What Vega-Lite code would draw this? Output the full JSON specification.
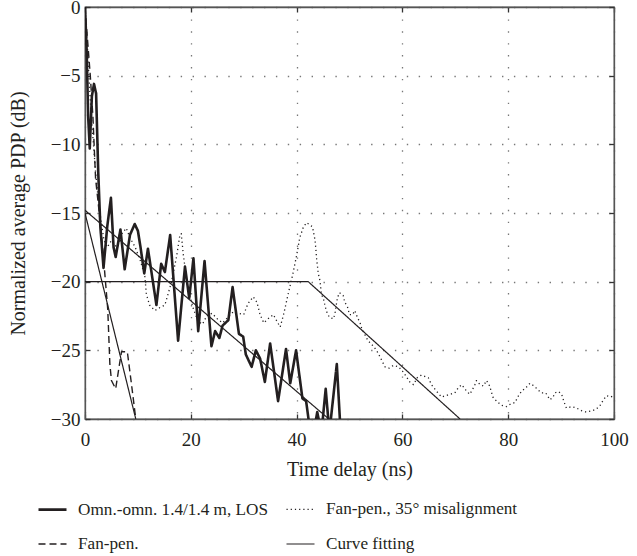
{
  "$schema": "https://vega.github.io/schema/vega-lite/v6.json",
  "autosize": {"type": "none"},
  "padding": {"left": 85, "top": 7, "right": 23, "bottom": 137},
  "width": 529,
  "height": 412,
  "config": {
    "font": "Liberation Serif, Times New Roman, serif",
    "view": {"stroke": "#555", "strokeWidth": 1.3},
    "axis": {
      "domainColor": "#555", "domainWidth": 1.3,
      "tickColor": "#333", "tickWidth": 1.3, "tickSize": -5,
      "labelFont": "Liberation Serif, Times New Roman, serif", "labelFontSize": 19, "labelColor": "#231f20",
      "titleFont": "Liberation Serif, Times New Roman, serif", "titleFontSize": 20, "titleFontWeight": "normal", "titleColor": "#231f20",
      "gridColor": "#777", "gridDash": [1.4, 10.5], "gridWidth": 1.3, "gridOpacity": 1
    },
    "legend": {
      "labelFont": "Liberation Serif, Times New Roman, serif", "labelFontSize": 17.2, "labelColor": "#231f20", "labelLimit": 0
    }
  },
  "datasets": {
    "lines": [
      {"s": "A", "seg": "a", "t": 0, "v": 0},
      {"s": "A", "seg": "a", "t": 0.3, "v": -3},
      {"s": "A", "seg": "a", "t": 0.6, "v": -8},
      {"s": "A", "seg": "a", "t": 0.9, "v": -10.3},
      {"s": "A", "seg": "a", "t": 1.3, "v": -6.5},
      {"s": "A", "seg": "a", "t": 1.7, "v": -5.6},
      {"s": "A", "seg": "a", "t": 2.1, "v": -6.3},
      {"s": "A", "seg": "a", "t": 2.5, "v": -12},
      {"s": "A", "seg": "a", "t": 2.9, "v": -16},
      {"s": "A", "seg": "a", "t": 3.5, "v": -19.0},
      {"s": "A", "seg": "a", "t": 4.2, "v": -16},
      {"s": "A", "seg": "a", "t": 4.9, "v": -13.9},
      {"s": "A", "seg": "a", "t": 5.4, "v": -17.5},
      {"s": "A", "seg": "a", "t": 5.8, "v": -18.2},
      {"s": "A", "seg": "a", "t": 6.7, "v": -16.2},
      {"s": "A", "seg": "a", "t": 7.5, "v": -19.1},
      {"s": "A", "seg": "a", "t": 8.5, "v": -16.6},
      {"s": "A", "seg": "a", "t": 9.4, "v": -15.8},
      {"s": "A", "seg": "a", "t": 10.0, "v": -16.3},
      {"s": "A", "seg": "a", "t": 10.5, "v": -17.5},
      {"s": "A", "seg": "a", "t": 11.2, "v": -19.4},
      {"s": "A", "seg": "a", "t": 11.9, "v": -17.6},
      {"s": "A", "seg": "a", "t": 13.5, "v": -21.7},
      {"s": "A", "seg": "a", "t": 14.4, "v": -18.7},
      {"s": "A", "seg": "a", "t": 15.1, "v": -19.3},
      {"s": "A", "seg": "a", "t": 16.1, "v": -16.6},
      {"s": "A", "seg": "a", "t": 17.6, "v": -24.3},
      {"s": "A", "seg": "a", "t": 18.9, "v": -18.9},
      {"s": "A", "seg": "a", "t": 19.7, "v": -21.2},
      {"s": "A", "seg": "a", "t": 20.5, "v": -18.3},
      {"s": "A", "seg": "a", "t": 21.4, "v": -23.6},
      {"s": "A", "seg": "a", "t": 22.6, "v": -18.5},
      {"s": "A", "seg": "a", "t": 23.9, "v": -24.7},
      {"s": "A", "seg": "a", "t": 24.6, "v": -23.6},
      {"s": "A", "seg": "a", "t": 25.4, "v": -24.1},
      {"s": "A", "seg": "a", "t": 26.0, "v": -23.2},
      {"s": "A", "seg": "a", "t": 27.1, "v": -22.8},
      {"s": "A", "seg": "a", "t": 27.9, "v": -20.4},
      {"s": "A", "seg": "a", "t": 29.1, "v": -23.8},
      {"s": "A", "seg": "a", "t": 29.9, "v": -24.0},
      {"s": "A", "seg": "a", "t": 30.4, "v": -25.3},
      {"s": "A", "seg": "a", "t": 31.5, "v": -26.2},
      {"s": "A", "seg": "a", "t": 32.3, "v": -25.0},
      {"s": "A", "seg": "a", "t": 33.1, "v": -25.6},
      {"s": "A", "seg": "a", "t": 34.0, "v": -27.3},
      {"s": "A", "seg": "a", "t": 35.0, "v": -24.5},
      {"s": "A", "seg": "a", "t": 36.5, "v": -28.7},
      {"s": "A", "seg": "a", "t": 38.0, "v": -24.9},
      {"s": "A", "seg": "a", "t": 38.8, "v": -27.4},
      {"s": "A", "seg": "a", "t": 39.9, "v": -25.0},
      {"s": "A", "seg": "a", "t": 41.1, "v": -28.5},
      {"s": "A", "seg": "a", "t": 41.8, "v": -28.7},
      {"s": "A", "seg": "a", "t": 42.6, "v": -31},
      {"s": "A", "seg": "a", "t": 43.4, "v": -30.6},
      {"s": "A", "seg": "a", "t": 43.9, "v": -29.5},
      {"s": "A", "seg": "a", "t": 44.7, "v": -31},
      {"s": "A", "seg": "a", "t": 45.5, "v": -27.8},
      {"s": "A", "seg": "a", "t": 46.2, "v": -31},
      {"s": "A", "seg": "a", "t": 47.6, "v": -26.0},
      {"s": "A", "seg": "a", "t": 48.4, "v": -31.5},

      {"s": "C", "seg": "c", "t": 0, "v": 0},
      {"s": "C", "seg": "c", "t": 0.5, "v": -2.5},
      {"s": "C", "seg": "c", "t": 1.0, "v": -5},
      {"s": "C", "seg": "c", "t": 1.5, "v": -8},
      {"s": "C", "seg": "c", "t": 2.0, "v": -12.5},
      {"s": "C", "seg": "c", "t": 2.5, "v": -14.3},
      {"s": "C", "seg": "c", "t": 3.1, "v": -16.5},
      {"s": "C", "seg": "c", "t": 3.7, "v": -19.2},
      {"s": "C", "seg": "c", "t": 4.3, "v": -22},
      {"s": "C", "seg": "c", "t": 4.7, "v": -26},
      {"s": "C", "seg": "c", "t": 5.0, "v": -27.2},
      {"s": "C", "seg": "c", "t": 5.8, "v": -27.8},
      {"s": "C", "seg": "c", "t": 6.4, "v": -26.3},
      {"s": "C", "seg": "c", "t": 6.9, "v": -25.1},
      {"s": "C", "seg": "c", "t": 8.0, "v": -25.1},
      {"s": "C", "seg": "c", "t": 8.8, "v": -27.5},
      {"s": "C", "seg": "c", "t": 9.6, "v": -30},
      {"s": "C", "seg": "c", "t": 10.2, "v": -32},

      {"s": "D", "seg": "d1", "t": 0, "v": -15},
      {"s": "D", "seg": "d1", "t": 9.6, "v": -30},
      {"s": "D", "seg": "d2", "t": 0, "v": -14.8},
      {"s": "D", "seg": "d2", "t": 46.1, "v": -30},
      {"s": "D", "seg": "d3", "t": 0, "v": -20},
      {"s": "D", "seg": "d3", "t": 42.2, "v": -20},
      {"s": "D", "seg": "d3", "t": 70.9, "v": -30},

      {"s": "B", "seg": "b", "t": 0, "v": 0},
      {"s": "B", "seg": "b", "t": 0.4, "v": -2.5},
      {"s": "B", "seg": "b", "t": 0.8, "v": -5.5},
      {"s": "B", "seg": "b", "t": 1.2, "v": -8},
      {"s": "B", "seg": "b", "t": 1.6, "v": -10},
      {"s": "B", "seg": "b", "t": 2.0, "v": -12},
      {"s": "B", "seg": "b", "t": 2.5, "v": -14},
      {"s": "B", "seg": "b", "t": 3.0, "v": -15.5},
      {"s": "B", "seg": "b", "t": 3.6, "v": -17},
      {"s": "B", "seg": "b", "t": 4.2, "v": -17.5},
      {"s": "B", "seg": "b", "t": 5.0, "v": -17},
      {"s": "B", "seg": "b", "t": 6.0, "v": -17.5},
      {"s": "B", "seg": "b", "t": 7.0, "v": -16.5},
      {"s": "B", "seg": "b", "t": 7.8, "v": -16.1},
      {"s": "B", "seg": "b", "t": 8.5, "v": -16.8},
      {"s": "B", "seg": "b", "t": 9.5, "v": -17.5},
      {"s": "B", "seg": "b", "t": 10.5, "v": -18.5},
      {"s": "B", "seg": "b", "t": 11.3, "v": -19.6},
      {"s": "B", "seg": "b", "t": 11.6, "v": -20.9},
      {"s": "B", "seg": "b", "t": 12.2, "v": -21.7},
      {"s": "B", "seg": "b", "t": 13.2, "v": -22.1},
      {"s": "B", "seg": "b", "t": 14.1, "v": -21.9},
      {"s": "B", "seg": "b", "t": 15.1, "v": -21.7},
      {"s": "B", "seg": "b", "t": 16.3, "v": -20.1},
      {"s": "B", "seg": "b", "t": 17.3, "v": -18.2},
      {"s": "B", "seg": "b", "t": 17.9, "v": -16.7},
      {"s": "B", "seg": "b", "t": 18.2, "v": -16.5},
      {"s": "B", "seg": "b", "t": 18.6, "v": -18.1},
      {"s": "B", "seg": "b", "t": 19.5, "v": -20.6},
      {"s": "B", "seg": "b", "t": 20.5, "v": -22},
      {"s": "B", "seg": "b", "t": 21.4, "v": -22.9},
      {"s": "B", "seg": "b", "t": 22.2, "v": -23.1},
      {"s": "B", "seg": "b", "t": 23.0, "v": -22.5},
      {"s": "B", "seg": "b", "t": 24.0, "v": -22.3},
      {"s": "B", "seg": "b", "t": 25.0, "v": -22.7},
      {"s": "B", "seg": "b", "t": 26.0, "v": -23.0},
      {"s": "B", "seg": "b", "t": 27.0, "v": -22.6},
      {"s": "B", "seg": "b", "t": 28.0, "v": -22.2},
      {"s": "B", "seg": "b", "t": 29.0, "v": -22.3},
      {"s": "B", "seg": "b", "t": 30.0, "v": -22.4},
      {"s": "B", "seg": "b", "t": 30.8, "v": -21.6},
      {"s": "B", "seg": "b", "t": 31.8, "v": -21.1},
      {"s": "B", "seg": "b", "t": 32.5, "v": -21.5},
      {"s": "B", "seg": "b", "t": 33.1, "v": -22.4},
      {"s": "B", "seg": "b", "t": 33.8, "v": -23.0},
      {"s": "B", "seg": "b", "t": 34.6, "v": -22.7},
      {"s": "B", "seg": "b", "t": 35.6, "v": -22.4},
      {"s": "B", "seg": "b", "t": 36.3, "v": -22.9},
      {"s": "B", "seg": "b", "t": 36.9, "v": -23.3},
      {"s": "B", "seg": "b", "t": 37.6, "v": -22.3},
      {"s": "B", "seg": "b", "t": 38.4, "v": -20.9},
      {"s": "B", "seg": "b", "t": 39.2, "v": -19.6},
      {"s": "B", "seg": "b", "t": 40.0, "v": -18.1},
      {"s": "B", "seg": "b", "t": 40.6, "v": -16.8},
      {"s": "B", "seg": "b", "t": 41.3, "v": -16.0},
      {"s": "B", "seg": "b", "t": 41.9, "v": -15.7},
      {"s": "B", "seg": "b", "t": 43.0, "v": -16.0},
      {"s": "B", "seg": "b", "t": 43.5, "v": -17.0},
      {"s": "B", "seg": "b", "t": 43.8, "v": -18.4},
      {"s": "B", "seg": "b", "t": 44.1, "v": -19.4},
      {"s": "B", "seg": "b", "t": 44.4, "v": -19.9},
      {"s": "B", "seg": "b", "t": 44.7, "v": -20.9},
      {"s": "B", "seg": "b", "t": 45.1, "v": -21.3},
      {"s": "B", "seg": "b", "t": 45.4, "v": -21.8},
      {"s": "B", "seg": "b", "t": 45.7, "v": -22.2},
      {"s": "B", "seg": "b", "t": 46.2, "v": -22.6},
      {"s": "B", "seg": "b", "t": 47.0, "v": -22.7},
      {"s": "B", "seg": "b", "t": 47.3, "v": -22.2},
      {"s": "B", "seg": "b", "t": 47.7, "v": -21.2},
      {"s": "B", "seg": "b", "t": 48.1, "v": -20.8},
      {"s": "B", "seg": "b", "t": 48.8, "v": -21.0},
      {"s": "B", "seg": "b", "t": 49.1, "v": -21.5},
      {"s": "B", "seg": "b", "t": 49.6, "v": -21.8},
      {"s": "B", "seg": "b", "t": 50.0, "v": -22.4},
      {"s": "B", "seg": "b", "t": 50.6, "v": -22.4},
      {"s": "B", "seg": "b", "t": 51.0, "v": -22.1},
      {"s": "B", "seg": "b", "t": 51.5, "v": -22.6},
      {"s": "B", "seg": "b", "t": 52.0, "v": -23.0},
      {"s": "B", "seg": "b", "t": 52.3, "v": -23.4},
      {"s": "B", "seg": "b", "t": 53.5, "v": -24.3},
      {"s": "B", "seg": "b", "t": 54.5, "v": -24.7},
      {"s": "B", "seg": "b", "t": 55.1, "v": -25.0},
      {"s": "B", "seg": "b", "t": 55.8, "v": -25.5},
      {"s": "B", "seg": "b", "t": 56.7, "v": -26.2},
      {"s": "B", "seg": "b", "t": 57.5, "v": -26.3},
      {"s": "B", "seg": "b", "t": 58.3, "v": -26.1},
      {"s": "B", "seg": "b", "t": 59.3, "v": -26.2},
      {"s": "B", "seg": "b", "t": 60.2, "v": -26.6},
      {"s": "B", "seg": "b", "t": 61.4, "v": -27.3},
      {"s": "B", "seg": "b", "t": 62.1, "v": -27.5},
      {"s": "B", "seg": "b", "t": 62.8, "v": -27.0},
      {"s": "B", "seg": "b", "t": 63.6, "v": -26.8},
      {"s": "B", "seg": "b", "t": 64.9, "v": -27.0},
      {"s": "B", "seg": "b", "t": 65.5, "v": -27.5},
      {"s": "B", "seg": "b", "t": 66.5, "v": -28.0},
      {"s": "B", "seg": "b", "t": 67.4, "v": -28.4},
      {"s": "B", "seg": "b", "t": 68.2, "v": -28.3},
      {"s": "B", "seg": "b", "t": 69.0, "v": -28.2},
      {"s": "B", "seg": "b", "t": 69.9, "v": -28.1},
      {"s": "B", "seg": "b", "t": 70.6, "v": -27.7},
      {"s": "B", "seg": "b", "t": 71.2, "v": -27.5},
      {"s": "B", "seg": "b", "t": 72.0, "v": -27.9},
      {"s": "B", "seg": "b", "t": 72.7, "v": -28.2},
      {"s": "B", "seg": "b", "t": 73.2, "v": -27.9},
      {"s": "B", "seg": "b", "t": 73.7, "v": -27.5},
      {"s": "B", "seg": "b", "t": 74.0, "v": -27.2},
      {"s": "B", "seg": "b", "t": 74.7, "v": -27.5},
      {"s": "B", "seg": "b", "t": 75.3, "v": -27.6},
      {"s": "B", "seg": "b", "t": 75.9, "v": -27.2},
      {"s": "B", "seg": "b", "t": 76.5, "v": -27.6},
      {"s": "B", "seg": "b", "t": 77.1, "v": -28.4},
      {"s": "B", "seg": "b", "t": 77.8, "v": -28.7},
      {"s": "B", "seg": "b", "t": 78.7, "v": -29.0},
      {"s": "B", "seg": "b", "t": 79.7, "v": -29.1},
      {"s": "B", "seg": "b", "t": 80.5, "v": -28.9},
      {"s": "B", "seg": "b", "t": 81.3, "v": -28.8},
      {"s": "B", "seg": "b", "t": 81.8, "v": -28.4},
      {"s": "B", "seg": "b", "t": 82.5, "v": -28.0},
      {"s": "B", "seg": "b", "t": 83.4, "v": -27.7},
      {"s": "B", "seg": "b", "t": 84.1, "v": -27.4},
      {"s": "B", "seg": "b", "t": 84.9, "v": -27.6},
      {"s": "B", "seg": "b", "t": 85.7, "v": -27.9},
      {"s": "B", "seg": "b", "t": 86.3, "v": -28.1},
      {"s": "B", "seg": "b", "t": 87.1, "v": -28.1},
      {"s": "B", "seg": "b", "t": 87.9, "v": -28.6},
      {"s": "B", "seg": "b", "t": 88.5, "v": -28.4},
      {"s": "B", "seg": "b", "t": 88.8, "v": -28.1},
      {"s": "B", "seg": "b", "t": 89.5, "v": -28.0},
      {"s": "B", "seg": "b", "t": 90.1, "v": -28.2},
      {"s": "B", "seg": "b", "t": 90.5, "v": -28.7},
      {"s": "B", "seg": "b", "t": 91.0, "v": -29.2},
      {"s": "B", "seg": "b", "t": 92.0, "v": -29.1},
      {"s": "B", "seg": "b", "t": 92.9, "v": -29.2},
      {"s": "B", "seg": "b", "t": 93.9, "v": -29.4},
      {"s": "B", "seg": "b", "t": 94.8, "v": -29.5},
      {"s": "B", "seg": "b", "t": 95.8, "v": -29.4},
      {"s": "B", "seg": "b", "t": 96.6, "v": -29.3},
      {"s": "B", "seg": "b", "t": 97.4, "v": -29.0},
      {"s": "B", "seg": "b", "t": 98.0, "v": -28.6},
      {"s": "B", "seg": "b", "t": 98.6, "v": -28.3},
      {"s": "B", "seg": "b", "t": 99.4, "v": -28.4},
      {"s": "B", "seg": "b", "t": 100.0, "v": -28.3}
    ]
  },
  "data": {"name": "lines"},
  "resolve": {"axis": {"x": "independent", "y": "independent"}},
  "layer": [
    {
      "mark": {"type": "line", "clip": true, "color": "#231f20", "strokeJoin": "round"},
      "encoding": {
        "x": {
          "field": "t", "type": "quantitative",
          "scale": {"domain": [0, 100], "nice": false},
          "axis": {
            "orient": "bottom", "title": "Time delay (ns)", "values": [0, 20, 40, 60, 80, 100],
            "grid": true, "labelFlush": false, "labelPadding": 16, "titlePadding": 10
          }
        },
        "y": {
          "field": "v", "type": "quantitative",
          "scale": {"domain": [-30, 0], "nice": false, "zero": false},
          "axis": {
            "orient": "left", "title": "Normalized average PDP (dB)", "values": [-30, -25, -20, -15, -10, -5, 0],
            "grid": true, "labelFlush": false, "labelPadding": 10, "titlePadding": 22
          }
        },
        "detail": {"field": "seg", "type": "nominal"},
        "strokeDash": {
          "field": "s", "type": "nominal",
          "scale": {"domain": ["A", "B", "C", "D"], "range": [[1, 0], [1.2, 3], [7, 4], [1, 0]]},
          "legend": {
            "orient": "none", "legendX": -48, "legendY": 487, "columns": 2, "direction": "horizontal", "title": null,
            "symbolType": "stroke", "symbolSize": 784, "symbolStrokeColor": "#231f20",
            "labelOffset": 10, "columnPadding": 14, "rowPadding": 11, "gridAlign": "each", "labelLimit": 0,
            "labelExpr": "datum.label == 'A' ? 'Omn.-omn. 1.4/1.4 m, LOS' : datum.label == 'B' ? 'Fan-pen., 35° misalignment' : datum.label == 'C' ? 'Fan-pen.' : 'Curve fitting'"
          }
        },
        "strokeWidth": {
          "field": "s", "type": "nominal",
          "scale": {"type": "ordinal", "domain": ["A", "B", "C", "D"], "range": [2.6, 1.3, 1.4, 1.2]},
          "legend": {
            "orient": "none", "legendX": -48, "legendY": 487, "columns": 2, "direction": "horizontal", "title": null,
            "symbolType": "stroke", "symbolSize": 784, "symbolStrokeColor": "#231f20",
            "labelOffset": 10, "columnPadding": 14, "rowPadding": 11, "gridAlign": "each", "labelLimit": 0,
            "labelExpr": "datum.label == 'A' ? 'Omn.-omn. 1.4/1.4 m, LOS' : datum.label == 'B' ? 'Fan-pen., 35° misalignment' : datum.label == 'C' ? 'Fan-pen.' : 'Curve fitting'"
          }
        }
      }
    },
    {
      "mark": {"type": "point", "opacity": 0},
      "encoding": {
        "x": {"field": "t", "type": "quantitative", "axis": {"orient": "top", "labels": false, "title": null, "grid": false, "values": [0, 20, 40, 60, 80, 100]}},
        "y": {"field": "v", "type": "quantitative", "axis": {"orient": "right", "labels": false, "title": null, "grid": false, "values": [-30, -25, -20, -15, -10, -5, 0]}}
      }
    }
  ]
}
